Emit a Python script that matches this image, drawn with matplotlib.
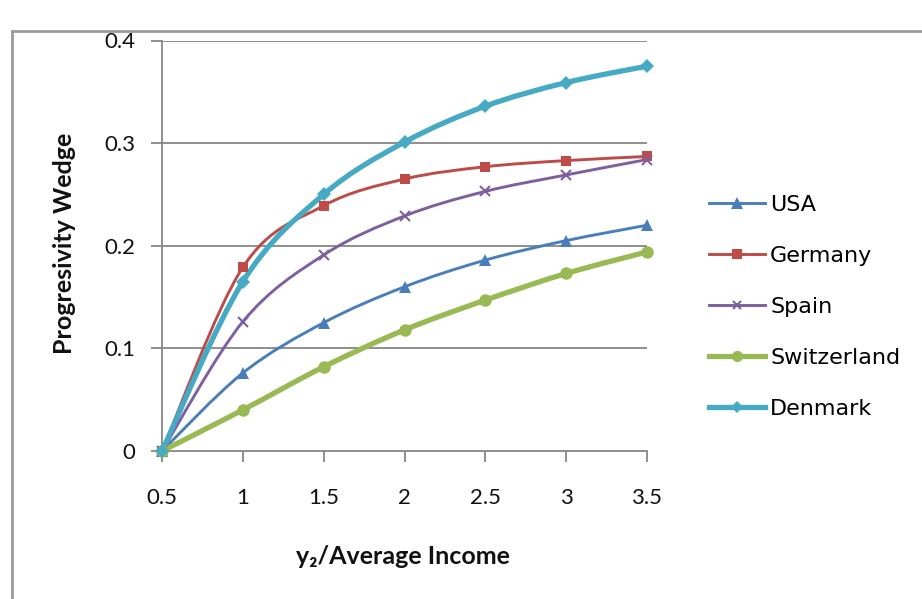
import matplotlib
matplotlib.use('Agg')
import matplotlib.pyplot as plt
from matplotlib.path import Path
from matplotlib.patches import PathPatch
from matplotlib.lines import Line2D
import numpy as np

plt.rcParams['font.family'] = ['Lato', 'DejaVu Sans']

income = [0.5, 1.0, 1.5, 2.0, 2.5, 3.0, 3.5]
usa = [0.0, 0.076, 0.125, 0.160, 0.186, 0.205, 0.220]
germany = [0.0, 0.179, 0.239, 0.265, 0.277, 0.283, 0.287]
spain = [0.0, 0.126, 0.191, 0.229, 0.253, 0.269, 0.284]
switzerland = [0.0, 0.040, 0.082, 0.118, 0.147, 0.173, 0.194]
denmark = [0.0, 0.165, 0.250, 0.301, 0.336, 0.359, 0.375]

names = ['USA', 'Germany', 'Spain', 'Switzerland', 'Denmark']
series = [usa, germany, spain, switzerland, denmark]
colors = ['#4A7EBB', '#BE4B48', '#7D60A0', '#98B954', '#46AAC5']
markers = ['^', 's', 'x', 'o', 'D']
msizes = [9, 7.5, 7, 9, 7]
lwidths = [2.1, 2.1, 2.1, 3.8, 3.8]


def smooth_path(x, y):
    # Excel-style smoothed line: cubic Bezier through every point
    p = np.column_stack([x, y]).astype(float)
    ext = np.vstack([p[0], p, p[-1]])
    verts = [tuple(p[0])]
    codes = [Path.MOVETO]
    for i in range(len(p) - 1):
        p0, p1, p2, p3 = ext[i], ext[i + 1], ext[i + 2], ext[i + 3]
        c1 = p1 + (p2 - p0) / 6.0
        c2 = p2 - (p3 - p1) / 6.0
        verts += [tuple(c1), tuple(c2), tuple(p2)]
        codes += [Path.CURVE4] * 3
    return Path(verts, codes)


fig = plt.figure(figsize=(9.22, 5.99), dpi=100)
ax = fig.add_axes([162 / 922, 1 - 451 / 599, (647 - 162) / 922, (451 - 40.5) / 599])

grid_c = '#868686'
for v in [0.1, 0.2, 0.3, 0.4]:
    ax.axhline(v, color=grid_c, lw=1.3, zorder=1)

handles = []
for name, vals, c, m, ms, lw in zip(names, series, colors, markers, msizes, lwidths):
    ax.add_patch(PathPatch(smooth_path(income, vals), facecolor='none',
                           edgecolor=c, lw=lw, zorder=3))
    mew = 1.5 if m == 'x' else 0
    ax.plot(income, vals, linestyle='none', marker=m, markersize=ms,
            color=c, markeredgewidth=mew, zorder=4, clip_on=False)
    handles.append(Line2D([0], [0], color=c, lw=lw, marker=m,
                          markersize=ms * 0.9, markeredgewidth=mew))

ax.set_xlim(0.5, 3.5)
ax.set_ylim(0, 0.4)
ax.set_xticks(income)
ax.set_xticklabels(['0.5', '1', '1.5', '2', '2.5', '3', '3.5'])
ax.set_yticks([0, 0.1, 0.2, 0.3, 0.4])
ax.set_yticklabels(['0', '0.1', '0.2', '0.3', '0.4'])

for s in ['top', 'right']:
    ax.spines[s].set_visible(False)
for s in ['left', 'bottom']:
    ax.spines[s].set_color(grid_c)
    ax.spines[s].set_linewidth(1.3)

ax.tick_params(axis='both', direction='out', length=8, width=1.3, color=grid_c,
               labelsize=16, labelcolor='#111111')
ax.tick_params(axis='y', pad=11.5)
ax.tick_params(axis='x', pad=19)

fig.text(64 / 922, 1 - 243 / 599, 'Progresivity Wedge', rotation=90, ha='center',
         va='center', fontsize=18, fontweight='bold', color='#111111')
fig.text(403 / 922, 1 - 557 / 599, 'y\u2082/Average Income', ha='center',
         va='center', fontsize=18, fontweight='bold', color='#111111')

fig.legend(handles, names, loc='center left', bbox_to_anchor=(709 / 922, 1 - 307 / 599),
           frameon=False, prop={'family': 'DejaVu Sans', 'size': 16},
           handlelength=2.5, handletextpad=0.25, labelspacing=1.4,
           borderpad=0, borderaxespad=0)

# outer chart border, partly cropped
fig.add_artist(Line2D([12 / 922, 12 / 922], [0, 1 - 31 / 599], transform=fig.transFigure,
                      color='#9a9a9a', lw=2))
fig.add_artist(Line2D([12 / 922, 1], [1 - 31 / 599, 1 - 31 / 599], transform=fig.transFigure,
                      color='#9a9a9a', lw=2))

fig.savefig('out.png', dpi=100)
